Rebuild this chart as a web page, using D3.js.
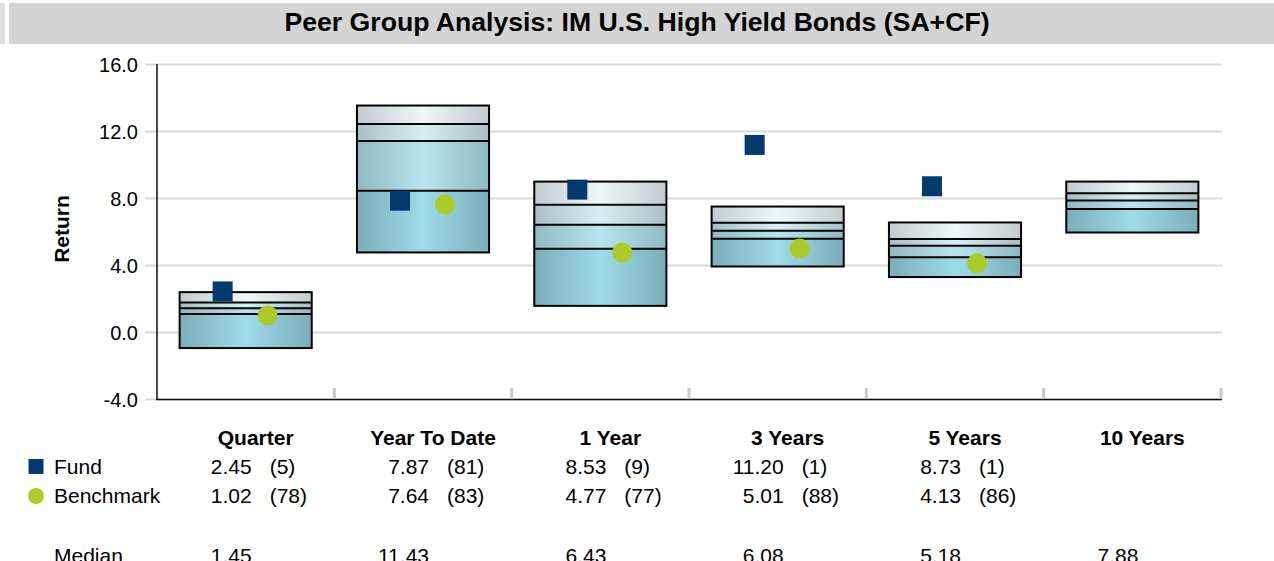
<!DOCTYPE html>
<html>
<head>
<meta charset="utf-8">
<script src="https://cdn.jsdelivr.net/npm/d3@7"></script>
<style>
html,body{margin:0;padding:0;background:#fff;overflow:hidden;}
svg{display:block;font-family:"Liberation Sans",Arial,sans-serif;}
</style>
</head>
<body>
<svg id="chart" width="1274" height="561"></svg>
<script>
const title = "Peer Group Analysis: IM U.S. High Yield Bonds (SA+CF)";
const categories = ["Quarter","Year To Date","1 Year","3 Years","5 Years","10 Years"];
const p95 = [2.41, 13.55, 9.01, 7.52, 6.57, 9.01];
const p75 = [1.79, 12.45, 7.62, 6.55, 5.58, 8.32];
const median = [1.45, 11.43, 6.43, 6.08, 5.18, 7.88];
const p25 = [1.10, 8.46, 5.00, 5.59, 4.50, 7.37];
const p5 = [-0.93, 4.78, 1.59, 3.94, 3.31, 5.97];
const fund = [2.45, 7.87, 8.53, 11.20, 8.73, null];
const fundRank = [5, 81, 9, 1, 1, null];
const bench = [1.02, 7.64, 4.77, 5.01, 4.13, null];
const benchRank = [78, 83, 77, 88, 86, null];
const yTicks = [-4, 0, 4, 8, 12, 16];

const svg = d3.select("#chart");
const fundColor = "#023a6e", benchColor = "#abcb2b";

// title bar
svg.append("rect").attr("x",0).attr("y",3).attr("width",5).attr("height",41).attr("fill","#dedede");
svg.append("rect").attr("x",9).attr("y",3).attr("width",1265).attr("height",41).attr("fill","#d4d4d4");
svg.append("text").attr("x",637).attr("y",31).attr("text-anchor","middle")
  .attr("font-size",25).attr("font-weight","bold").attr("fill","#000")
  .attr("textLength",705).attr("lengthAdjust","spacingAndGlyphs").text(title);

const x = d3.scaleBand().domain(categories).range([157,1221]).padding(0);
const y = d3.scaleLinear().domain([-4,16]).range([399.5,64.5]);
const bw = x.bandwidth();
const boxW = bw*0.745;
const cx = c => x(c) + bw/2;

// gradients
const defs = svg.append("defs");
const grads = [
  ["g0","#c3cbce","#eff7f9"],
  ["g1","#a7c0c6","#d6eff5"],
  ["g2","#90bac3","#b7e4ee"],
  ["g3","#7cadb9","#9edbe8"]
];
grads.forEach(([id,e,c])=>{
  const g = defs.append("linearGradient").attr("id",id).attr("x1","0").attr("x2","1").attr("y1","0").attr("y2","0");
  g.append("stop").attr("offset","0").attr("stop-color",e);
  g.append("stop").attr("offset","0.5").attr("stop-color",c);
  g.append("stop").attr("offset","1").attr("stop-color",e);
});

// gridlines + y ticks
const yAxis = svg.append("g");
yTicks.forEach(t=>{
  yAxis.append("line").attr("x1",145).attr("x2",1222).attr("y1",y(t)).attr("y2",y(t))
    .attr("stroke","#d9d9d9").attr("stroke-width",2);
  yAxis.append("text").attr("x",138).attr("y",y(t)+7).attr("text-anchor","end")
    .attr("font-size",20).attr("fill","#000").text(t.toFixed(1));
});
svg.append("text").attr("transform","translate(69,229) rotate(-90)").attr("text-anchor","middle")
  .attr("font-size",21).attr("font-weight","bold").text("Return");

// boxes
categories.forEach((c,i)=>{
  const x0 = cx(c)-boxW/2;
  const levels = [p95[i],p75[i],median[i],p25[i],p5[i]];
  for(let k=0;k<4;k++){
    svg.append("rect").attr("x",x0).attr("width",boxW)
      .attr("y",y(levels[k])).attr("height",y(levels[k+1])-y(levels[k]))
      .attr("fill",`url(#g${k})`);
  }
  for(let k=1;k<4;k++){
    svg.append("line").attr("x1",x0).attr("x2",x0+boxW).attr("y1",y(levels[k])).attr("y2",y(levels[k]))
      .attr("stroke","#000").attr("stroke-width",2);
  }
  svg.append("rect").attr("x",x0).attr("width",boxW).attr("y",y(p95[i])).attr("height",y(p5[i])-y(p95[i]))
    .attr("fill","none").attr("stroke","#000").attr("stroke-width",2);
});

// axes lines
svg.append("line").attr("x1",157).attr("x2",157).attr("y1",64).attr("y2",400).attr("stroke","#111").attr("stroke-width",1.5);
svg.append("line").attr("x1",156).attr("x2",1222).attr("y1",399.5).attr("y2",399.5).attr("stroke","#111").attr("stroke-width",1.5);
categories.forEach(c=>{
  const xe = x(c)+bw;
  svg.append("rect").attr("x",xe-1.5).attr("width",3).attr("y",388).attr("height",11).attr("fill","#c5cacf");
});

// markers
categories.forEach((c,i)=>{
  if(fund[i]!=null){
    svg.append("rect").attr("x",cx(c)-23-10).attr("y",y(fund[i])-10).attr("width",20).attr("height",20).attr("fill",fundColor);
  }
  if(bench[i]!=null){
    svg.append("circle").attr("cx",cx(c)+22).attr("cy",y(bench[i])).attr("r",10).attr("fill",benchColor);
  }
});

// table
const fs = 21;
const rowFund = 474, rowBench = 503, rowMed = 563, rowHead = 445;
categories.forEach((c,i)=>{
  const m = cx(c);
  svg.append("text").attr("x",m+10).attr("y",rowHead).attr("text-anchor","middle")
    .attr("font-size",fs).attr("font-weight","bold").text(c);
  if(fund[i]!=null){
    svg.append("text").attr("x",m+6).attr("y",rowFund).attr("text-anchor","end").attr("font-size",fs).text(fund[i].toFixed(2));
    svg.append("text").attr("x",m+24).attr("y",rowFund).attr("font-size",fs).text(`(${fundRank[i]})`);
  }
  if(bench[i]!=null){
    svg.append("text").attr("x",m+6).attr("y",rowBench).attr("text-anchor","end").attr("font-size",fs).text(bench[i].toFixed(2));
    svg.append("text").attr("x",m+24).attr("y",rowBench).attr("font-size",fs).text(`(${benchRank[i]})`);
  }
  svg.append("text").attr("x",m+6).attr("y",rowMed).attr("text-anchor","end").attr("font-size",fs).text(median[i].toFixed(2));
});
svg.append("rect").attr("x",28.5).attr("y",rowFund-15).attr("width",15).attr("height",15).attr("fill",fundColor);
svg.append("circle").attr("cx",36).attr("cy",rowBench-7).attr("r",8).attr("fill",benchColor);
svg.append("text").attr("x",54).attr("y",rowFund).attr("font-size",fs).text("Fund");
svg.append("text").attr("x",54).attr("y",rowBench).attr("font-size",fs).text("Benchmark");
svg.append("text").attr("x",54).attr("y",rowMed).attr("font-size",fs).text("Median");
</script>
</body>
</html>
